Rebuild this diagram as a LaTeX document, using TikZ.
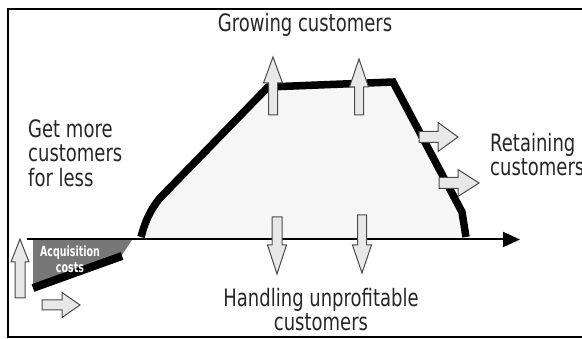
\documentclass[tikz,border=0pt]{standalone}
\usepackage{fontspec}
\usetikzlibrary{arrows.meta}
\newfontfamily\lblfont[FakeStretch=0.75]{DejaVu Sans}
\newfontfamily\acqfont[FakeStretch=0.68]{DejaVu Sans}
\definecolor{txtgray}{HTML}{262626}
\definecolor{arrfill}{HTML}{E8E8E8}
\definecolor{arrline}{HTML}{4A4A4A}
\definecolor{areafill}{HTML}{F6F6F6}
\definecolor{acqgray}{HTML}{777777}
\newcommand{\blockarrow}[7]{% x, y (tail centre), rotate, length, head length, head half width, shaft half width
  \draw[arr, shift={(#1,#2)}, rotate=#3]
    (0,-#7) -- ({#4-#5},-#7) -- ({#4-#5},-#6) -- (#4,0) -- ({#4-#5},#6) -- ({#4-#5},#7) -- (0,#7) -- cycle;}
\begin{document}
\begin{tikzpicture}[x=1pt,y=-1pt,
  lbl/.style={text=txtgray, inner sep=0pt, font=\lblfont\fontsize{24}{24.5}\selectfont},
  arr/.style={draw=arrline, fill=arrfill, line width=1pt, line join=miter},
  growth/.style={line width=7.5pt, line join=miter, miter limit=6},
  frameline/.style={line width=2pt}]
\useasboundingbox (0,0) rectangle (582,339);
% area under the curve
\fill[areafill] (141,239) -- (141,236) .. controls (145,222) and (150,210) .. (160,198) -- (268,87) -- (393,82) -- (462,212) -- (466,239) -- cycle;
% acquisition costs
\fill[acqgray] (33,240) -- (132,240) -- (122,255) -- (33,287) -- cycle;
\draw[line width=8pt] (33,288) -- (122,256);
\node[text=white, font=\acqfont\bfseries\fontsize{14}{16}\selectfont, align=center, inner sep=0pt] (acq) at (70,259) {Acquisition\\costs};
% axis
\coordinate (axs) at (27,239.5);
\coordinate (axe) at (520,239.5);
\draw[line width=2pt, -{Triangle[length=17pt,width=15pt]}] (axs) -- (axe);
% growth curve
\draw[growth] (141,237) .. controls (145,222) and (150,210) .. (160,198) -- (268,87) -- (393,82) -- (462,212) -- (466,237);
% frame
\draw[frameline] (582,9) -- (8,9) -- (8,337) -- (582,337);
% labels
\node[lbl, anchor=base] (grow) at (305,32) {Growing customers};
\node[lbl, anchor=north west, align=left] (getmore) at (28,119) {Get more\\customers\\for less};
\node[lbl, anchor=north west, align=left] (retain) at (490,133) {Retaining\\customers};
\node[lbl, anchor=north, align=center] (handle) at (321,288) {Handling unprofitable\\customers};
% block arrows
\blockarrow{20}{298}{90}{59}{23}{9}{5}
\blockarrow{42}{305}{0}{38}{18}{12.5}{5}
\blockarrow{273}{115}{90}{58}{26}{9.5}{4.5}
\blockarrow{359}{115}{90}{56}{28}{9.5}{4.5}
\blockarrow{277}{217}{-90}{57}{29}{9.5}{5}
\blockarrow{362}{215}{-90}{58}{28}{9.5}{4.5}
\blockarrow{419}{137}{0}{39}{20}{14.5}{5.5}
\blockarrow{439}{183}{0}{40}{21}{13.5}{5.5}
\end{tikzpicture}
\end{document}
